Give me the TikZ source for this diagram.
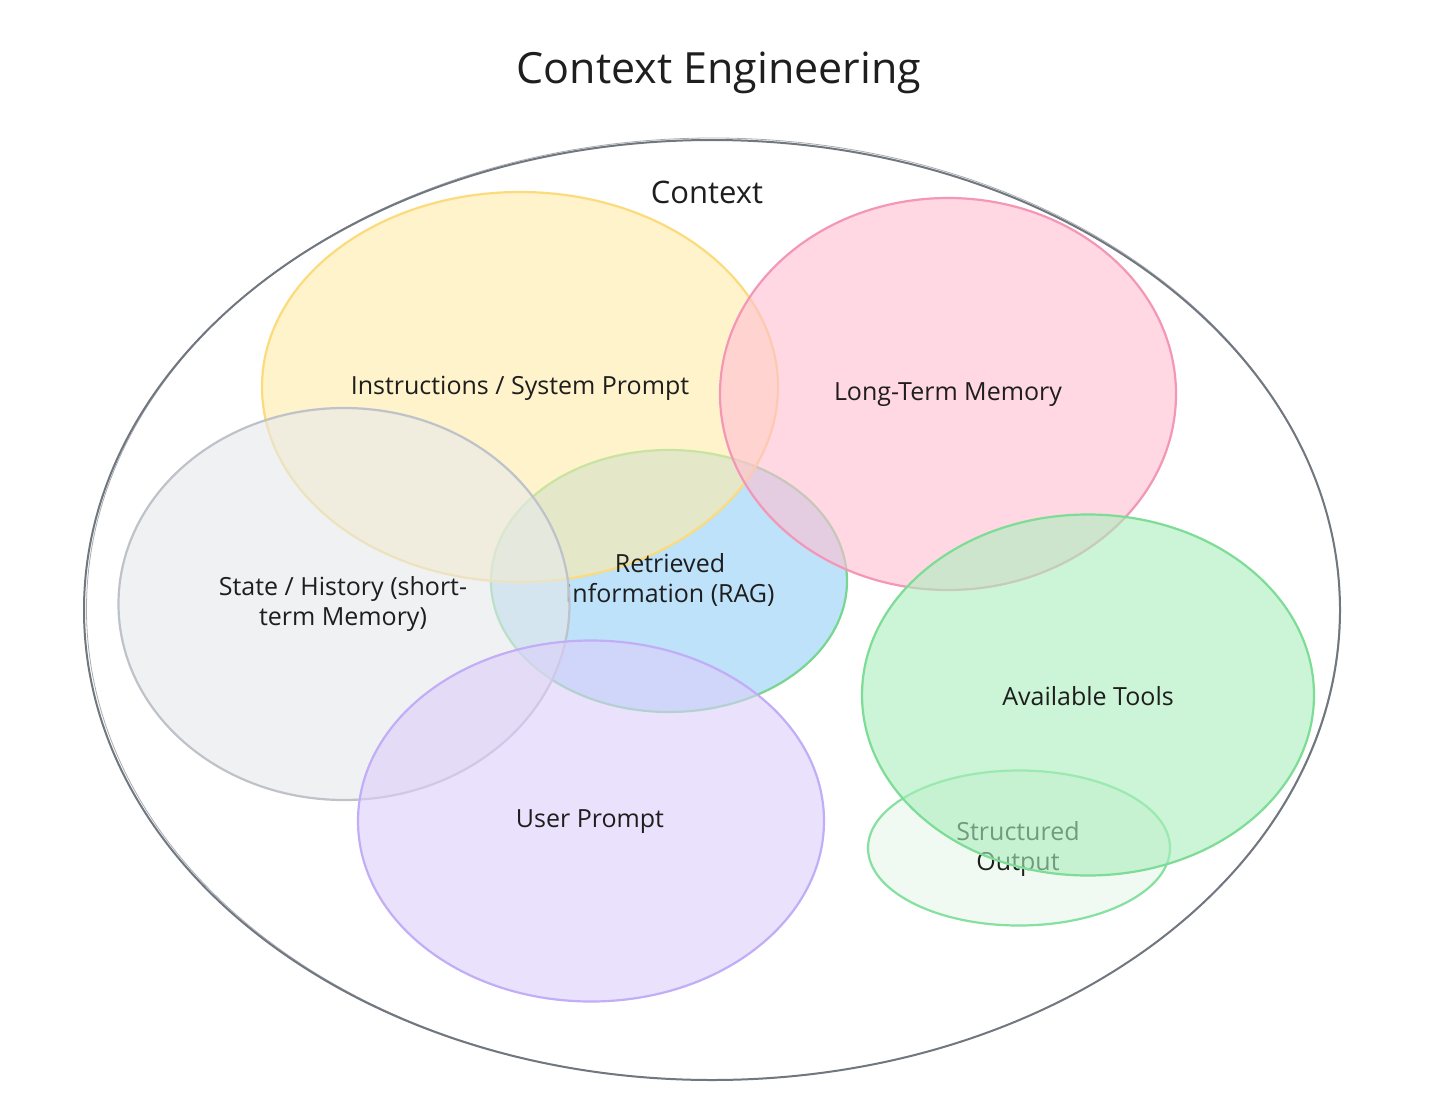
\documentclass[tikz,border=0pt]{standalone}
\usepackage{fontspec}
\setmainfont{Open Sans}
\usetikzlibrary{shapes.geometric}
\definecolor{outerc}{RGB}{113,119,127}
\definecolor{yelf}{RGB}{255,236,170}
\definecolor{yels}{RGB}{252,219,124}
\definecolor{pinkf}{RGB}{255,190,210}
\definecolor{pinks}{RGB}{244,151,182}
\definecolor{greyf}{RGB}{230,232,235}
\definecolor{greys}{RGB}{190,194,201}
\definecolor{bluef}{RGB}{145,208,245}
\definecolor{blues}{RGB}{120,214,145}
\definecolor{purf}{RGB}{220,207,250}
\definecolor{purs}{RGB}{194,173,247}
\definecolor{toolf}{RGB}{170,238,188}
\definecolor{tools}{RGB}{125,220,150}
\definecolor{strf}{RGB}{230,248,235}
\definecolor{strs}{RGB}{134,224,159}
\definecolor{ink}{RGB}{30,30,30}
\tikzset{
  blob/.style={ellipse, inner sep=0pt, line width=2.2pt, fill opacity=0.6, text opacity=1},
  lbl/.style={font=\fontsize{25}{30}\selectfont, text=ink, align=center, inner sep=0pt},
}
\begin{document}
\begin{tikzpicture}[x=1pt,y=-1pt]
\useasboundingbox (0,0) rectangle (1442,1110);
\fill[white] (0,0) rectangle (1442,1110);
% title
\node[font=\fontsize{43}{48}\selectfont, text=ink] (title) at (719,73) {Context Engineering};
% outer context
\node[ellipse, draw=outerc, line width=2pt, minimum width=1256pt, minimum height=940pt, inner sep=0pt] (ctx) at (712,610) {};
\node[ellipse, draw=outerc, line width=0.8pt, draw opacity=0.6, minimum width=1253pt, minimum height=942pt, inner sep=0pt] (ctxb) at (713,609) {};
\node[font=\fontsize{31}{34}\selectfont, text=ink] (ctxlbl) at (707,192) {Context};
% retrieved (fill first)
\node[blob, fill=bluef, draw=blues, fill opacity=0.6, minimum width=356pt, minimum height=262pt] (rag) at (669,581) {};
% instructions
\node[blob, fill=yelf, draw=yels, minimum width=516pt, minimum height=390pt] (instr) at (520,387) {};
\node[lbl] (instrlbl) at (520,388) {Instructions / System Prompt};
% long-term memory
\node[blob, fill=pinkf, draw=pinks, minimum width=456pt, minimum height=392pt] (ltm) at (948,394) {};
\node[lbl] (ltmlbl) at (948,395) {Long-Term Memory};
% retrieved label
\node[lbl] (raglbl) at (670,580) {Retrieved\\Information (RAG)};
% state / history
\node[blob, fill=greyf, draw=greys, minimum width=451pt, minimum height=392pt] (state) at (344,604) {};
\node[lbl] (statelbl) at (343,604) {State / History (short-\\term Memory)};
% user prompt
\node[blob, fill=purf, draw=purs, minimum width=466pt, minimum height=361pt] (user) at (591,821) {};
\node[lbl] (userlbl) at (590,822) {User Prompt};
% structured output
\node[blob, fill=strf, draw=strs, minimum width=302pt, minimum height=155pt] (struct) at (1019,848) {};
\node[lbl] (structlbl) at (1018,849) {Structured\\Output};
% available tools
\node[blob, fill=toolf, draw=tools, minimum width=452pt, minimum height=361pt] (toolsn) at (1088,695) {};
\node[lbl] (toolslbl) at (1088,696) {Available Tools};
\end{tikzpicture}
\end{document}
